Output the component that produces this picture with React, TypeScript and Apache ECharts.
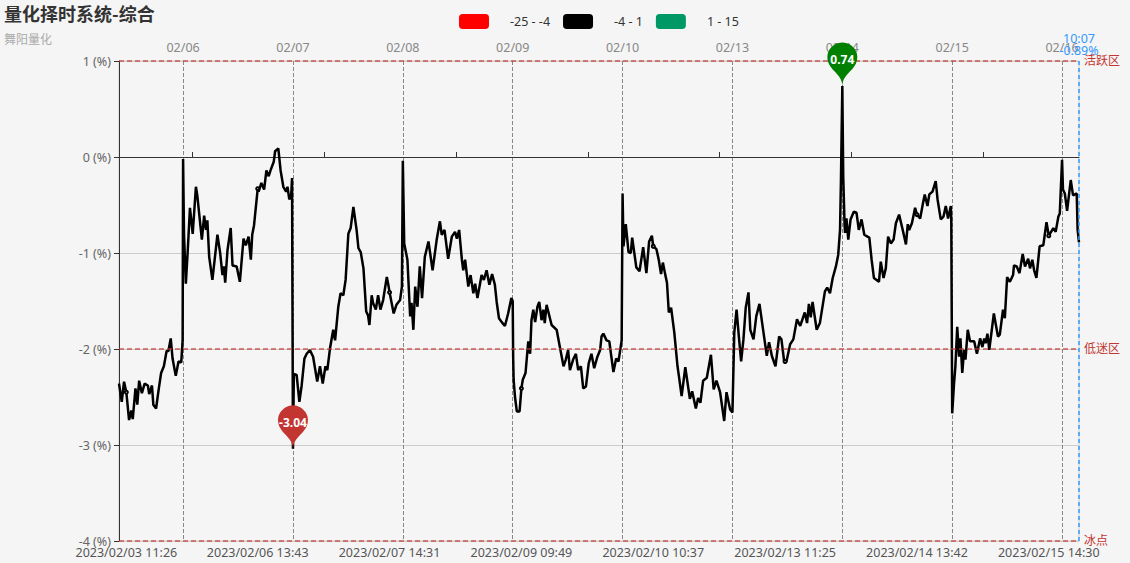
import React, { useEffect, useRef } from "react";
import * as echarts from "echarts";

const titleText = "量化择时系统-综合";
const subtitleText = "舞阳量化";

const lastBar = 2097;
const endTime = "10:07";
const endValue = "-0.89%";

const dayBars = [140, 380, 620, 860, 1100, 1340, 1580, 1820, 2060];
const dayLabels = ["02/06", "02/07", "02/08", "02/09", "02/10", "02/13", "02/14", "02/15", "02/16"];

const timeBars = [16, 303, 591, 879, 1167, 1455, 1743, 2031];
const timeLabels = [
  "2023/02/03 11:26",
  "2023/02/06 13:43",
  "2023/02/07 14:31",
  "2023/02/09 09:49",
  "2023/02/10 10:37",
  "2023/02/13 11:25",
  "2023/02/14 13:42",
  "2023/02/15 14:30",
];
const minorTickBars = [160, 448, 736, 1024, 1312, 1600, 1888];

const levelValues = [1, -2, -4];
const levelNames = ["活跃区", "低迷区", "冰点"];

const pieces = [
  { min: -25, max: -4, color: "#ff0000" },
  { min: -4, max: 1, color: "#000000" },
  { min: 1, max: 15, color: "#009966" },
];

const day0203 = [
  [0, -2.36], [6, -2.55], [11, -2.34], [16, -2.45], [22, -2.74], [27, -2.64], [30, -2.73], [36, -2.41],
  [40, -2.58], [44, -2.33], [50, -2.46], [56, -2.36], [63, -2.38], [66, -2.47], [72, -2.38], [75, -2.58],
  [81, -2.62], [87, -2.41], [92, -2.25], [98, -2.18], [104, -2.02], [108, -2.02], [113, -1.89], [117, -2.1],
  [124, -2.28], [130, -2.13], [136, -2.14], [139, -1.91],
];
const day0206 = [
  [140, -0.02], [142, -0.8], [146, -1.32], [150, -0.99], [155, -0.53], [161, -0.8], [168, -0.31], [171, -0.4],
  [181, -0.86], [186, -0.61], [190, -0.76], [193, -0.66], [197, -1.04], [204, -1.28], [215, -0.81], [221, -1.0],
  [226, -1.23], [229, -1.14], [232, -1.31], [237, -0.97], [244, -0.74], [248, -1.13], [257, -1.14], [264, -1.3],
  [272, -0.85], [277, -0.92], [283, -0.83], [288, -1.07], [291, -0.81], [295, -0.71], [303, -0.33], [305, -0.36],
  [311, -0.27], [317, -0.34], [322, -0.14], [327, -0.2], [331, -0.14], [338, -0.05], [341, 0.06], [348, 0.09],
  [353, -0.14], [359, -0.31], [365, -0.36], [368, -0.31], [372, -0.44], [376, -0.41], [378, -0.22],
];
const day0207 = [
  [380, -3.04], [382, -2.26], [388, -2.27], [394, -2.55], [399, -2.38], [405, -2.1], [410, -2.05], [417, -2.01],
  [424, -2.08], [433, -2.34], [439, -2.18], [445, -2.36], [451, -2.18], [455, -2.22], [461, -1.99], [468, -1.8],
  [472, -1.91], [479, -1.56], [484, -1.42], [490, -1.44], [495, -1.28], [501, -0.8], [506, -0.74], [512, -0.52],
  [519, -0.76], [523, -0.95], [528, -0.99], [534, -1.16], [540, -1.61], [544, -1.65], [547, -1.75], [552, -1.44],
  [555, -1.52], [561, -1.59], [566, -1.44], [571, -1.59], [577, -1.49], [585, -1.25], [589, -1.35], [591, -1.41],
  [600, -1.63], [606, -1.54], [614, -1.49], [618, -1.35],
];
const day0208 = [
  [620, -0.04], [623, -0.9], [630, -1.07], [636, -1.66], [639, -1.52], [643, -1.8], [647, -1.35], [652, -1.56],
  [657, -1.14], [662, -1.47], [668, -1.04], [676, -0.88], [685, -1.18], [694, -0.86], [701, -0.67], [705, -0.81],
  [711, -0.76], [719, -1.06], [727, -0.83], [734, -0.78], [738, -0.85], [743, -0.76], [749, -1.07], [752, -1.18],
  [756, -1.07], [763, -1.35], [768, -1.23], [774, -1.42], [778, -1.32], [783, -1.47], [792, -1.23], [797, -1.28],
  [803, -1.18], [809, -1.33], [815, -1.22], [821, -1.33], [825, -1.51], [830, -1.68], [836, -1.72], [843, -1.76],
  [850, -1.63], [857, -1.47],
];
const day0209 = [
  [860, -1.5], [861, -2.08], [862, -2.32], [865, -2.5], [869, -2.65], [875, -2.65], [879, -2.41], [882, -2.32],
  [888, -2.25], [894, -1.92], [898, -2.05], [901, -1.7], [905, -1.59], [909, -1.72], [914, -1.56], [918, -1.51],
  [923, -1.7], [927, -1.59], [930, -1.73], [934, -1.54], [945, -1.75], [956, -1.8], [963, -1.98], [971, -2.18],
  [976, -2.11], [981, -2.01], [985, -2.22], [992, -2.11], [998, -2.05], [1003, -2.22], [1009, -2.18], [1014, -2.41],
  [1020, -2.39], [1026, -2.15], [1032, -2.05], [1038, -2.2], [1045, -2.08], [1051, -2.01], [1054, -1.87], [1058, -1.84],
  [1065, -1.91], [1071, -1.92], [1080, -2.24], [1086, -2.1], [1091, -2.13], [1098, -1.91],
];
const day0210 = [
  [1100, -0.38], [1102, -0.93], [1107, -0.7], [1113, -0.99], [1118, -1.0], [1121, -0.84], [1130, -1.15], [1137, -1.19],
  [1145, -0.94], [1152, -1.21], [1158, -0.88], [1164, -0.82], [1167, -0.93], [1174, -0.96], [1179, -1.07], [1184, -1.22],
  [1188, -1.1], [1193, -1.22], [1197, -1.31], [1201, -1.62], [1206, -1.57], [1213, -1.83], [1220, -2.18], [1223, -2.28],
  [1229, -2.49], [1237, -2.19], [1244, -2.42], [1247, -2.52], [1252, -2.44], [1260, -2.62], [1265, -2.51], [1270, -2.56],
  [1276, -2.33], [1284, -2.3], [1293, -2.06], [1299, -2.42], [1305, -2.33], [1313, -2.45], [1322, -2.75], [1327, -2.45],
  [1335, -2.63],
];
const day0213 = [
  [1340, -2.66], [1344, -1.83], [1349, -1.59], [1354, -1.87], [1359, -2.13], [1364, -1.9], [1369, -1.57], [1375, -1.41],
  [1379, -1.8], [1386, -1.9], [1392, -1.66], [1399, -1.53], [1407, -1.8], [1415, -2.07], [1420, -1.93], [1426, -2.07],
  [1434, -2.18], [1442, -1.87], [1447, -1.9], [1453, -2.13], [1455, -2.13], [1458, -2.13], [1466, -1.95], [1473, -1.9],
  [1481, -1.69], [1488, -1.76], [1498, -1.62], [1503, -1.73], [1507, -1.53], [1511, -1.67], [1515, -1.51], [1524, -1.8],
  [1531, -1.73], [1542, -1.4], [1547, -1.36], [1553, -1.42], [1559, -1.26], [1566, -1.14], [1571, -1.02], [1575, -0.76],
  [1577, -0.24],
];
const day0214 = [
  [1580, 0.74], [1582, -0.2], [1585, -0.72], [1586, -0.79], [1589, -0.64], [1593, -0.86], [1598, -0.65], [1605, -0.57],
  [1611, -0.58], [1616, -0.76], [1622, -0.65], [1628, -0.81], [1635, -0.83], [1639, -0.84], [1644, -1.07], [1649, -1.26],
  [1660, -1.3], [1664, -1.09], [1670, -1.26], [1675, -1.16], [1680, -0.83], [1686, -0.9], [1692, -0.86], [1697, -0.69],
  [1704, -0.6], [1712, -0.76], [1719, -0.91], [1723, -0.7], [1726, -0.76], [1732, -0.69], [1739, -0.53], [1743, -0.6],
  [1750, -0.64], [1757, -0.46], [1760, -0.39], [1766, -0.51], [1770, -0.39], [1777, -0.36], [1784, -0.25], [1788, -0.44],
  [1795, -0.65], [1801, -0.62], [1806, -0.51], [1811, -0.64], [1817, -0.51], [1818, -0.65],
];
const day0215 = [
  [1820, -2.67], [1824, -2.36], [1827, -2.18], [1831, -1.77], [1835, -2.08], [1838, -1.89], [1842, -2.25], [1846, -2.01],
  [1849, -2.11], [1854, -1.8], [1859, -1.92], [1868, -1.92], [1874, -2.05], [1881, -1.89], [1886, -1.98], [1890, -1.89],
  [1893, -1.94], [1897, -1.84], [1901, -2.01], [1911, -1.63], [1920, -1.87], [1924, -1.85], [1931, -1.59], [1935, -1.68],
  [1940, -1.25], [1946, -1.3], [1953, -1.23], [1955, -1.13], [1961, -1.14], [1967, -1.21], [1974, -1.01], [1979, -1.14],
  [1986, -1.06], [1990, -1.16], [1995, -1.07], [1999, -1.18], [2004, -1.26], [2011, -0.93], [2019, -0.92], [2026, -0.68],
  [2031, -0.82], [2041, -0.74], [2046, -0.78], [2052, -0.62], [2055, -0.59],
];
const day0216 = [
  [2060, -0.03], [2062, -0.34], [2066, -0.38], [2071, -0.56], [2079, -0.24], [2084, -0.4], [2092, -0.38], [2094, -0.76],
  [2097, -0.89],
];

const seriesData = [
  ...day0203, ...day0206, ...day0207, ...day0208, ...day0209,
  ...day0210, ...day0213, ...day0214, ...day0215, ...day0216,
];

const CJK = '"Noto Sans CJK SC", "Noto Sans", sans-serif';
const LATIN = '"Noto Sans", "Noto Sans CJK SC", sans-serif';
const FS = 12.5;

export default function App() {
  const ref = useRef<HTMLDivElement>(null);
  useEffect(() => {
    document.body.style.margin = "0";
    const chart = echarts.init(ref.current!, null, { renderer: "svg" });
    const baseX = { type: "value", min: 0, max: lastBar, gridIndex: 0 };
    chart.setOption({
      animation: false,
      backgroundColor: "#f5f5f5",
      textStyle: { fontFamily: LATIN },
      title: {
        text: titleText,
        subtext: subtitleText,
        left: -1,
        top: -1,
        itemGap: 11,
        textStyle: { fontSize: 18, fontWeight: "bold", color: "#333", fontFamily: CJK },
        subtextStyle: { fontSize: 12, color: "#aaa", fontFamily: CJK },
      },
      visualMap: {
        type: "piecewise",
        orient: "horizontal",
        left: 444,
        top: -1,
        dimension: 1,
        seriesIndex: 0,
        selectedMode: false,
        itemWidth: 30,
        itemHeight: 15,
        itemGap: 13,
        textGap: 21,
        itemSymbol: "roundRect",
        textStyle: { color: "#333", fontSize: FS, fontFamily: LATIN },
        pieces,
      },
      grid: {
        left: 119,
        right: 51,
        top: 61,
        bottom: 22,
        show: true,
        borderColor: "#ccc",
        borderWidth: 1,
        backgroundColor: "transparent",
      },
      xAxis: [
        {
          ...baseX,
          position: "top",
          axisLine: { show: false, onZero: false },
          axisTick: { show: false, customValues: dayBars },
          axisLabel: {
            customValues: dayBars,
            color: "#888",
            fontSize: FS,
            margin: 7,
            formatter: (v: number) => dayLabels[dayBars.indexOf(v)] ?? "",
          },
          splitLine: { show: true, lineStyle: { type: "dashed", color: "#888", width: 1 } },
        },
        {
          ...baseX,
          position: "bottom",
          axisLine: { show: false, onZero: false },
          axisTick: { show: false },
          axisLabel: {
            customValues: timeBars,
            color: "#555",
            fontSize: FS,
            margin: 5,
            formatter: (v: number) => timeLabels[timeBars.indexOf(v)] ?? "",
          },
          splitLine: { show: false },
        },
        {
          ...baseX,
          position: "bottom",
          axisLine: { show: true, onZero: true, lineStyle: { color: "#333", width: 1 } },
          axisTick: { show: true, inside: true, length: 5, customValues: minorTickBars, lineStyle: { color: "#333" } },
          axisLabel: { show: false },
          splitLine: { show: false },
        },
      ],
      yAxis: {
        type: "value",
        min: -4,
        max: 1,
        interval: 1,
        axisLine: { show: true, onZero: false, lineStyle: { color: "#333" } },
        axisTick: { show: true, length: 5, lineStyle: { color: "#333" } },
        axisLabel: { formatter: "{value} (%)", color: "#666", fontSize: FS, margin: 8, padding: [0, 0, 2, 0] },
        splitLine: { show: true, lineStyle: { color: "#ccc", width: 1 } },
      },
      series: [
        {
          type: "line",
          xAxisIndex: 0,
          yAxisIndex: 0,
          data: seriesData,
          showSymbol: true,
          showAllSymbol: true,
          symbol: (value: number[]) => (timeBars.includes(value[0]) ? "emptyCircle" : "none"),
          symbolSize: 3,
          lineStyle: { width: 2.5 },
          silent: true,
          markPoint: {
            symbol: "pin",
            symbolSize: 50,
            label: { color: "#fff", fontSize: 12, fontWeight: "bold", fontFamily: LATIN },
            data: [
              { type: "max", itemStyle: { color: "#008000" } },
              { type: "min", itemStyle: { color: "#c23531" } },
            ],
          },
          markLine: {
            symbol: "none",
            silent: true,
            animation: false,
            data: [
              ...levelValues.map((y, i) => ({
                yAxis: y,
                lineStyle: { color: "rgba(194,53,49,0.6)", type: [5, 3], width: 2 },
                label: {
                  show: true,
                  position: "end",
                  formatter: levelNames[i],
                  color: "#c23531",
                  fontSize: 12,
                  offset: [0, -2],
                  fontFamily: CJK,
                },
              })),
              {
                xAxis: lastBar,
                lineStyle: { color: "#3399ff", type: [4, 3], width: 1.5 },
                label: {
                  show: true,
                  position: "end",
                  formatter: `${endTime}\n${endValue}`,
                  color: "#3399ff",
                  fontSize: FS,
                  lineHeight: 12,
                  fontFamily: LATIN,
                },
              },
            ],
          },
        },
      ],
    });
    return () => chart.dispose();
  }, []);
  return (
    <div
      ref={ref}
      style={{ position: "absolute", left: 0, top: 0, width: 1130, height: 563 }}
    />
  );
}
